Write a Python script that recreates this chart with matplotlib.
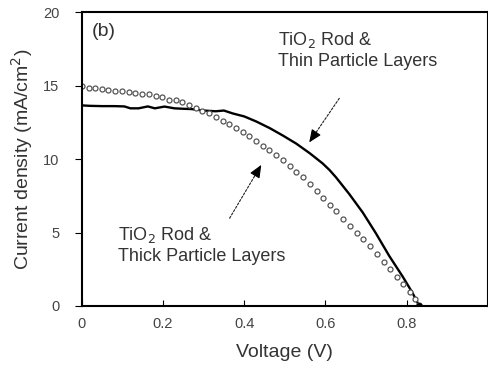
import matplotlib.pyplot as plt

plt.rcParams['font.family'] = ['Liberation Sans', 'DejaVu Sans']

# Rod & thin particle layers (solid curve)
thin_v = [0, 0.02, 0.05, 0.08, 0.105, 0.12, 0.14, 0.163, 0.18, 0.204, 0.228, 0.25,
          0.27, 0.30, 0.33, 0.35, 0.372, 0.40, 0.43, 0.463, 0.495, 0.528, 0.561,
          0.593, 0.61, 0.626, 0.659, 0.692, 0.724, 0.757, 0.79, 0.814, 0.827, 0.83]
thin_j = [13.65, 13.62, 13.6, 13.6, 13.58, 13.45, 13.45, 13.58, 13.45, 13.57, 13.45, 13.42,
          13.4, 13.3, 13.25, 13.3, 13.1, 12.9, 12.55, 12.1, 11.6, 11.05, 10.4,
          9.7, 9.25, 8.75, 7.6, 6.35, 4.95, 3.4, 2.0, 0.9, 0.2, 0.0]

# Rod & thick particle layers (open circles)
thick_v = [0.0, 0.017, 0.033, 0.050, 0.066, 0.083, 0.099, 0.116, 0.132, 0.149, 0.165,
           0.182, 0.198, 0.215, 0.231, 0.248, 0.264, 0.281, 0.297, 0.314, 0.330, 0.347,
           0.363, 0.380, 0.396, 0.413, 0.429, 0.446, 0.462, 0.479, 0.495, 0.512, 0.528,
           0.545, 0.561, 0.578, 0.594, 0.611, 0.627, 0.644, 0.660, 0.677, 0.693, 0.710,
           0.726, 0.743, 0.759, 0.776, 0.792, 0.808, 0.820, 0.830]
thick_j = [15.0, 14.85, 14.8, 14.75, 14.7, 14.65, 14.6, 14.55, 14.5, 14.45, 14.4,
           14.3, 14.2, 14.05, 14.0, 13.85, 13.7, 13.5, 13.3, 13.1, 12.85, 12.6,
           12.35, 12.1, 11.85, 11.55, 11.25, 10.9, 10.6, 10.25, 9.9, 9.55, 9.15,
           8.75, 8.3, 7.8, 7.35, 6.9, 6.45, 5.95, 5.45, 5.0, 4.55, 4.05,
           3.55, 3.0, 2.5, 2.0, 1.5, 0.95, 0.5, 0.1]

x_ticks = [0, 0.2, 0.4, 0.6, 0.8]
x_labels = ['0', '0.2', '0.4', '0.6', '0.8']
y_ticks = [0, 5, 10, 15, 20]

# arrow (tail, head) pairs in data coords
arrows = [((0.634, 14.13), (0.56, 11.13)),
          ((0.364, 5.97), (0.442, 9.6))]

fig = plt.figure(figsize=(4.89, 3.66), dpi=100)
ax = fig.add_axes([0.167, 0.164, 0.831, 0.803])

ax.plot(thin_v, thin_j, color='black', lw=1.7)
ax.plot(thick_v, thick_j, linestyle='none', marker='o', markersize=3.6,
        markerfacecolor='white', markeredgecolor='#555555', markeredgewidth=0.9)
ax.plot([0.83], [0], marker='o', color='black', markersize=4)

ax.set_xlim(0, 1.0)
ax.set_ylim(0, 20)
ax.set_xticks(x_ticks)
ax.set_xticklabels(x_labels)
ax.set_yticks(y_ticks)
ax.tick_params(axis='x', direction='in', length=4, pad=8, labelsize=10.5, labelcolor='#444444')
ax.tick_params(axis='y', direction='out', length=5, pad=11, labelsize=10.5, labelcolor='#444444')
for s in ax.spines.values():
    s.set_linewidth(1.5)

ax.set_xlabel('Voltage (V)', fontsize=14, color='#333333', labelpad=9)
ax.set_ylabel('Current density (mA/cm$^2$)', fontsize=14, color='#333333', labelpad=6)

ax.text(0.026, 18.7, '(b)', fontsize=14, color='#333333', va='center', ha='left')
ax.text(0.483, 18.75, 'TiO$_2$ Rod &\nThin Particle Layers', fontsize=13,
        color='#333333', va='top', ha='left')
ax.text(0.09, 5.5, 'TiO$_2$ Rod &\nThick Particle Layers', fontsize=13,
        color='#333333', va='top', ha='left')

# dashed shaft + solid filled head
for tail, head in arrows:
    ax.annotate('', xy=head, xytext=tail,
                arrowprops=dict(arrowstyle='-', color='#222222', lw=0.8,
                                linestyle=(0, (2, 1.5)), shrinkA=0, shrinkB=4))
    near = (head[0] + 0.2 * (tail[0] - head[0]), head[1] + 0.2 * (tail[1] - head[1]))
    ax.annotate('', xy=head, xytext=near,
                arrowprops=dict(arrowstyle='-|>,head_length=0.7,head_width=0.3',
                                color='black', lw=0.8, shrinkA=0, shrinkB=0,
                                mutation_scale=11))

fig.savefig('out.png', dpi=100)
